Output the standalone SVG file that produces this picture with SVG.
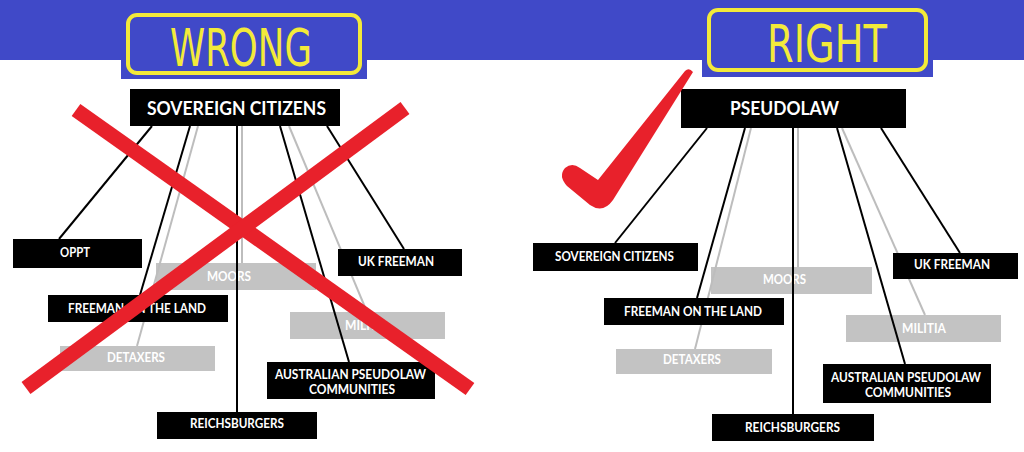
<svg xmlns="http://www.w3.org/2000/svg" width="1024" height="452" viewBox="0 0 1024 452">
<style>
.blk{fill:#000}
.gry{fill:#c3c3c3}
.t{font-family:Lato,"Open Sans","Liberation Sans",sans-serif;font-weight:700;font-size:12.5px;fill:#fff}
.rt{font-family:Lato,"Open Sans","Liberation Sans",sans-serif;font-weight:700;font-size:18px;fill:#fff}
.hw{font-family:"DejaVu Sans Condensed","DejaVu Sans",sans-serif;font-size:52px;fill:#f3ea3a}
.lb{stroke:#000;stroke-width:2;fill:none}
.lg{stroke:#bdbdbd;stroke-width:2;fill:none}
.red{stroke:#e8212b;stroke-width:15;fill:none;stroke-linecap:butt}
.ybox{fill:none;stroke:#f3ea3a;stroke-width:4}
</style>
<rect x="0" y="0" width="1024" height="452" fill="#fff"/>
<g id="header">
<rect x="0" y="0" width="1024" height="60" fill="#4049c8"/>
<rect x="121" y="58" width="246" height="21" fill="#4049c8"/>
<rect x="702" y="58" width="231" height="19" fill="#4049c8"/>
<rect class="ybox" x="128" y="15" width="232" height="58" rx="9"/>
<rect class="ybox" x="709" y="10" width="217" height="60" rx="9"/>
<text class="hw" x="170" y="66" textLength="142" lengthAdjust="spacingAndGlyphs">WRONG</text>
<text class="hw" x="767" y="62" textLength="120" lengthAdjust="spacingAndGlyphs">RIGHT</text>
</g>
<g id="left-moors"><rect class="gry" x="156" y="263" width="160" height="27"/><text class="t" x="207" y="281" textLength="44" lengthAdjust="spacingAndGlyphs">MOORS</text></g>
<g id="left-detaxers"><rect class="gry" x="60" y="346" width="155" height="25"/><text class="t" x="107" y="362" textLength="58" lengthAdjust="spacingAndGlyphs">DETAXERS</text></g>
<g id="left-militia"><rect class="gry" x="290" y="312" width="155" height="27"/><text class="t" x="345" y="330" textLength="44" lengthAdjust="spacingAndGlyphs">MILITIA</text></g>
<g id="right-moors"><rect class="gry" x="711" y="267" width="161" height="27"/><text class="t" x="763" y="284" textLength="43" lengthAdjust="spacingAndGlyphs">MOORS</text></g>
<g id="right-detaxers"><rect class="gry" x="616" y="349" width="156" height="25"/><text class="t" x="663" y="364" textLength="58" lengthAdjust="spacingAndGlyphs">DETAXERS</text></g>
<g id="right-militia"><rect class="gry" x="846" y="315" width="155" height="27"/><text class="t" x="902" y="333" textLength="44" lengthAdjust="spacingAndGlyphs">MILITIA</text></g>
<g id="connectors">
<line class="lg" x1="198" y1="126" x2="137" y2="346"/>
<line class="lg" x1="242" y1="126" x2="242" y2="263"/>
<line class="lg" x1="289" y1="126" x2="367" y2="312"/>
<line class="lb" x1="152" y1="126" x2="59" y2="239"/>
<line class="lb" x1="190" y1="126" x2="140" y2="295"/>
<line class="lb" x1="237" y1="126" x2="237" y2="412"/>
<line class="lb" x1="280" y1="126" x2="349" y2="362"/>
<line class="lb" x1="327" y1="126" x2="404" y2="249"/>
<line class="lg" x1="751" y1="128" x2="695" y2="349"/>
<line class="lg" x1="798" y1="128" x2="798" y2="267"/>
<line class="lg" x1="842" y1="128" x2="925" y2="315"/>
<line class="lb" x1="707" y1="128" x2="615" y2="243"/>
<line class="lb" x1="745" y1="128" x2="697" y2="298"/>
<line class="lb" x1="793" y1="128" x2="793" y2="414"/>
<line class="lb" x1="837" y1="128" x2="905" y2="364"/>
<line class="lb" x1="881" y1="128" x2="960" y2="253"/>
</g>
<g id="left-root"><rect class="blk" x="130" y="89" width="210" height="37"/><text class="rt" x="147" y="115" textLength="179" lengthAdjust="spacingAndGlyphs">SOVEREIGN CITIZENS</text></g>
<g id="left-oppt"><rect class="blk" x="13" y="239" width="129" height="29"/><text class="t" x="60" y="257" textLength="30" lengthAdjust="spacingAndGlyphs">OPPT</text></g>
<g id="left-ukfreeman"><rect class="blk" x="338" y="249" width="124" height="27"/><text class="t" x="358" y="266" textLength="76" lengthAdjust="spacingAndGlyphs">UK FREEMAN</text></g>
<g id="left-freeman"><rect class="blk" x="48" y="295" width="180" height="27"/><text class="t" x="68" y="313" textLength="138" lengthAdjust="spacingAndGlyphs">FREEMAN ON THE LAND</text></g>
<g id="left-australian"><rect class="blk" x="267" y="362" width="168" height="37"/><text class="t" x="275" y="379" textLength="151" lengthAdjust="spacingAndGlyphs">AUSTRALIAN PSEUDOLAW</text><text class="t" x="309" y="394" textLength="86" lengthAdjust="spacingAndGlyphs">COMMUNITIES</text></g>
<g id="left-reichsburgers"><rect class="blk" x="157" y="412" width="160" height="27"/><text class="t" x="190" y="428" textLength="94" lengthAdjust="spacingAndGlyphs">REICHSBURGERS</text></g>
<g id="right-root"><rect class="blk" x="681" y="89" width="225" height="39"/><text class="rt" x="730" y="115" textLength="109" lengthAdjust="spacingAndGlyphs">PSEUDOLAW</text></g>
<g id="right-sovereign"><rect class="blk" x="533" y="243" width="165" height="28"/><text class="t" x="555" y="261" textLength="119" lengthAdjust="spacingAndGlyphs">SOVEREIGN CITIZENS</text></g>
<g id="right-ukfreeman"><rect class="blk" x="893" y="253" width="125" height="26"/><text class="t" x="914" y="269" textLength="76" lengthAdjust="spacingAndGlyphs">UK FREEMAN</text></g>
<g id="right-freeman"><rect class="blk" x="604" y="298" width="180" height="27"/><text class="t" x="624" y="316" textLength="138" lengthAdjust="spacingAndGlyphs">FREEMAN ON THE LAND</text></g>
<g id="right-australian"><rect class="blk" x="823" y="364" width="168" height="39"/><text class="t" x="831" y="382" textLength="150" lengthAdjust="spacingAndGlyphs">AUSTRALIAN PSEUDOLAW</text><text class="t" x="865" y="397" textLength="86" lengthAdjust="spacingAndGlyphs">COMMUNITIES</text></g>
<g id="right-reichsburgers"><rect class="blk" x="712" y="414" width="162" height="27"/><text class="t" x="745" y="432" textLength="95" lengthAdjust="spacingAndGlyphs">REICHSBURGERS</text></g>
<g id="cross">
<line class="red" x1="76" y1="110" x2="470" y2="389"/>
<line class="red" x1="405" y1="108" x2="26" y2="388"/>
</g>
<g id="check">
<path fill="#e8212b" d="M685,71 Q689,67 693,72 L613,200 Q603,214 590,205 L567,186 Q558,176 565,168 Q572,162 580,168 L598,180 Z"/>
</g>
</svg>
